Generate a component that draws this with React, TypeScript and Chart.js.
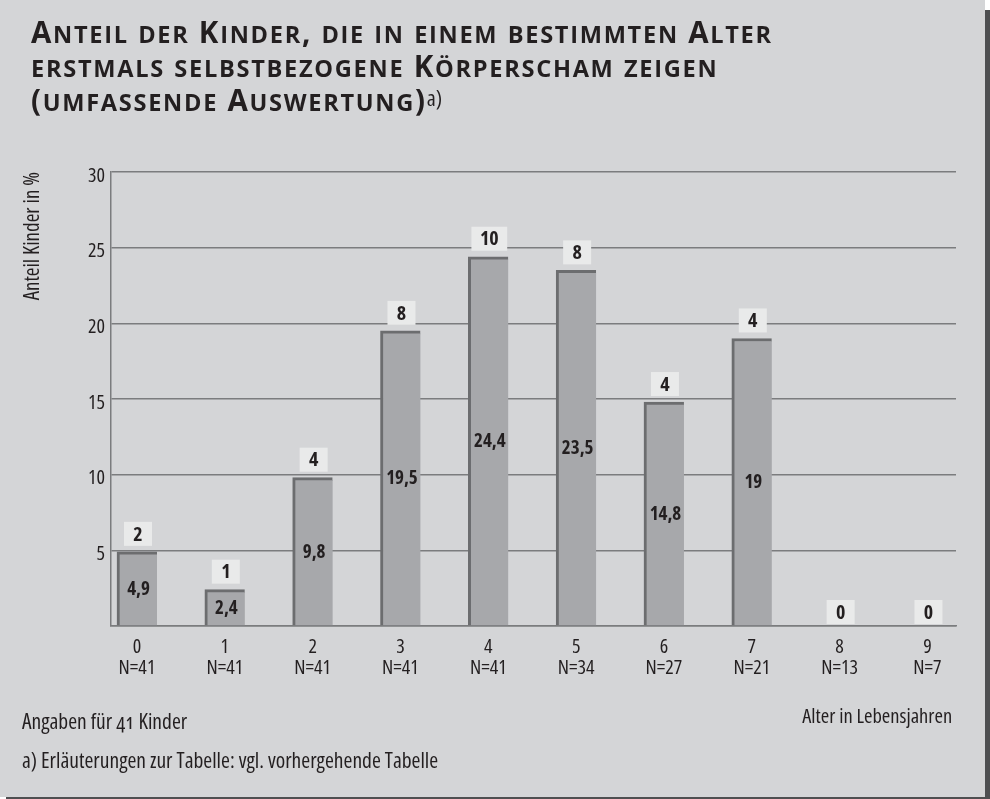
import React, { useEffect, useRef } from "react";
import { Chart, registerables } from "chart.js";

Chart.register(...registerables);

const ages = [0, 1, 2, 3, 4, 5, 6, 7, 8, 9];
const nLabels = ["N=41", "N=41", "N=41", "N=41", "N=41", "N=34", "N=27", "N=21", "N=13", "N=7"];
const shares = [4.9, 2.4, 9.8, 19.5, 24.4, 23.5, 14.8, 19, 0, 0];
const counts = [2, 1, 4, 8, 10, 8, 4, 4, 0, 0];
const yTicks = [0, 5, 10, 15, 20, 25, 30];
const titleLines = [
  "Anteil der Kinder, die in einem bestimmten Alter",
  "erstmals selbstbezogene Körperscham zeigen",
  "(umfassende Auswertung)",
];

const FONT = "'Open Sans', 'Liberation Sans', sans-serif";
const STRETCH = "condensed";
const TEXT = "#231f20";
const BG = "#d4d5d7";
const GRID = "#7b7c7e";
const BAR_LIGHT = "#a7a8ab";
const BAR_DARK = "#6c6d6f";
const BOX = "#e9eaea";

const W = 985;
const H = 797;

const fmt = (v: number) => String(v).replace(".", ",");

const barLabels = {
  id: "barLabels",
  afterDatasetsDraw(chart: any) {
    const ctx = chart.ctx;
    const meta = chart.getDatasetMeta(0);
    ctx.save();
    ctx.textAlign = "center";
    ctx.textBaseline = "middle";
    meta.data.forEach((bar: any, i: number) => {
      const { x, y, base } = bar.getProps(["x", "y", "base"], true);
      const v = shares[i];
      if (v > 0) {
        ctx.font = `bold ${STRETCH} 19px ${FONT}`;
        ctx.fillStyle = TEXT;
        ctx.fillText(fmt(v), x + 1.5, (y + base) / 2 + 1);
      }
      const t = String(counts[i]);
      ctx.font = `bold ${STRETCH} 20px ${FONT}`;
      const w = Math.max(ctx.measureText(t).width + 17, 28);
      const h = 24;
      const bottom = y - (v > 0 ? 6 : 2);
      ctx.fillStyle = BOX;
      ctx.fillRect(x + 1 - w / 2, bottom - h, w, h);
      ctx.fillStyle = TEXT;
      ctx.fillText(t, x + 1, bottom - h / 2 + 1);
    });
    ctx.restore();
  },
};

// Small caps: upper-case letters full size, lower-case letters shown as smaller capitals
function SmallCaps({ text }: { text: string }) {
  const parts: React.ReactNode[] = [];
  const re = /([a-zäöüß]+)|([^a-zäöüß]+)/g;
  let m: RegExpExecArray | null;
  let k = 0;
  while ((m = re.exec(text))) {
    if (m[1]) {
      parts.push(
        <span key={k++} style={{ fontSize: "0.8em", textTransform: "uppercase" }}>
          {m[1]}
        </span>
      );
    } else {
      parts.push(<span key={k++}>{m[2]}</span>);
    }
  }
  return <>{parts}</>;
}

export default function App() {
  const ref = useRef<HTMLCanvasElement | null>(null);

  useEffect(() => {
    if (!ref.current) return;
    Chart.defaults.font.family = FONT;
    Chart.defaults.color = TEXT;
    const f = (size: number, lh?: number) => ({ size, weight: `normal ${STRETCH}`, lineHeight: lh ?? 1.2 });
    const chart = new Chart(ref.current, {
      type: "bar",
      data: {
        labels: ages,
        datasets: [
          {
            data: shares,
            backgroundColor: BAR_LIGHT,
            borderColor: BAR_DARK,
            borderWidth: { left: 3, top: 3, right: 0, bottom: 0 },
            borderSkipped: false,
            barThickness: 40,
          },
        ],
      },
      options: {
        animation: false,
        responsive: false,
        maintainAspectRatio: false,
        layout: { padding: { left: 0, right: 29, top: 172, bottom: 0 } },
        plugins: {
          legend: { display: false },
          tooltip: { enabled: false },
          title: { display: false },
        },
        scales: {
          x: {
            type: "linear",
            offset: false,
            min: -0.296,
            max: 9.325,
            afterBuildTicks: (s: any) => {
              s.ticks = ages.map((a) => ({ value: a }));
            },
            afterFit: (s: any) => {
              s.height = H - 626;
            },
            grid: { display: false, drawTicks: false },
            border: { display: true, color: GRID, width: 1.5 },
            ticks: {
              autoSkip: false,
              maxRotation: 0,
              padding: 11,
              font: f(20, 1.05),
              color: TEXT,
              callback: (_v: any, i: number) => [String(ages[i]), nLabels[i]],
            },
            title: {
              display: true,
              text: "Alter in Lebensjahren ",
              align: "end",
              color: TEXT,
              font: f(20.5),
              padding: { top: 0, bottom: 68 },
            },
          },
          y: {
            min: 0,
            max: 30,
            afterBuildTicks: (s: any) => {
              s.ticks = yTicks.map((v) => ({ value: v }));
            },
            afterFit: (s: any) => {
              s.width = 111;
            },
            grid: { color: GRID, lineWidth: 1.5, drawTicks: false },
            border: { display: true, color: GRID, width: 1.5 },
            ticks: {
              padding: 6,
              labelOffset: 4,
              font: f(20),
              color: TEXT,
              callback: (v: any) => (v === 0 ? "" : String(v)),
            },
            title: {
              display: true,
              text: "Anteil Kinder in %",
              align: "end",
              color: TEXT,
              font: f(21),
              padding: { top: 20, bottom: 0 },
            },
          },
        },
      },
      plugins: [barLabels],
    } as any);
    return () => chart.destroy();
  }, []);

  const base: React.CSSProperties = {
    position: "absolute",
    whiteSpace: "nowrap",
    fontVariantNumeric: "oldstyle-nums",
  };
  return (
    <div
      style={{
        position: "absolute",
        left: 0,
        top: 0,
        width: W,
        height: H,
        background: BG,
        boxShadow: "6px 10px 0 #4e4f51",
        fontFamily: FONT,
        color: TEXT,
      }}
    >
      <canvas ref={ref} width={W} height={H} style={{ position: "absolute", left: 0, top: 0 }} />
      <div
        style={{
          ...base,
          left: 31,
          top: 16,
          fontWeight: "bold",
          fontStretch: "normal",
          fontSize: 29.5,
          lineHeight: "31px",
          letterSpacing: "1.7px",
        }}
      >
        <SmallCaps text={titleLines[0]} />
        <br />
        <SmallCaps text={titleLines[1]} />
        <br />
        <SmallCaps text={titleLines[2]} />
        <span style={{ fontWeight: "normal", fontSize: 22, letterSpacing: 0, position: "relative", top: -5, fontStretch: "condensed" }}>
          a)
        </span>
      </div>
      <div style={{ ...base, left: 22, top: 711, fontSize: 21.5, lineHeight: "20px", fontStretch: "condensed" }}>
        Angaben für 41 Kinder
      </div>
      <div style={{ ...base, left: 22, top: 750, fontSize: 21.5, lineHeight: "20px", fontStretch: "condensed" }}>
        a) Erläuterungen zur Tabelle: vgl. vorhergehende Tabelle
      </div>
    </div>
  );
}
